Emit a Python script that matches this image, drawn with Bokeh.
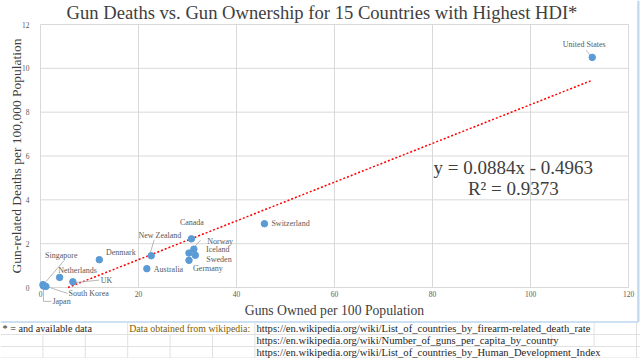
from bokeh.plotting import figure
from bokeh.models import ColumnDataSource, LabelSet, Label, Range1d, FixedTicker
from bokeh.embed import file_html
from bokeh.resources import INLINE

# ---------------- data ----------------
countries = ["United States", "Switzerland", "Canada", "Norway", "Iceland", "Sweden",
             "Germany", "Australia", "New Zealand", "Denmark", "Netherlands", "UK",
             "Singapore", "South Korea", "Japan"]
guns_per_100 = [112.6, 45.7, 30.8, 31.3, 30.3, 31.6, 30.3, 21.7, 22.6, 12.0, 3.9, 6.6, 0.5, 1.1, 0.6]
deaths_per_100k = [10.5, 2.91, 2.22, 1.75, 1.57, 1.47, 1.24, 0.86, 1.45, 1.27, 0.46, 0.26, 0.13, 0.05, 0.07]
trend_slope = 0.0884
trend_intercept = -0.4963
r_squared = 0.9373
x_ticks = [0, 20, 40, 60, 80, 100, 120]
y_ticks = [0, 2, 4, 6, 8, 10, 12]

title_text = "Gun Deaths vs. Gun Ownership for 15 Countries with Highest HDI*"
x_title = "Guns Owned per 100 Population"
y_title = "Gun-related Deaths per 100,000 Population"
note_text = "* = and available data"
source_label = "Data obtained from wikipedia:"
source_urls = ["https://en.wikipedia.org/wiki/List_of_countries_by_firearm-related_death_rate",
               "https://en.wikipedia.org/wiki/Number_of_guns_per_capita_by_country",
               "https://en.wikipedia.org/wiki/List_of_countries_by_Human_Development_Index"]

# ---------------- layout (canvas pixels) ----------------
FONT = "Liberation Serif"
W, H = 640, 358
X0PX, X1PX = 40, 628      # canvas x of x=0 and x=120
Y0PX, Y1PX = 287, 24      # canvas y (from top) of y=0 and y=12
kx = (X1PX - X0PX) / (x_ticks[-1] - x_ticks[0])
ky = (Y0PX - Y1PX) / (y_ticks[-1] - y_ticks[0])


def dx(px):
    return x_ticks[0] + (px - X0PX) / kx


def dy(py):
    return y_ticks[0] + (Y0PX - py) / ky


# label placement: (dx, dy) in px (y down), alignment
label_place = {
    "United States": (-8, -12.7, "center"),
    "Switzerland": (7, 0, "left"),
    "Canada": (0.5, -16, "center"),
    "Norway": (13.4, -8, "left"),
    "Iceland": (17, -3.4, "left"),
    "Sweden": (11, 4.3, "left"),
    "Germany": (19, 8, "center"),
    "Australia": (7, 0.4, "left"),
    "New Zealand": (8.7, -20.3, "center"),
    "Denmark": (6.7, -6.7, "left"),
    "Netherlands": (18, -7.3, "center"),
    "UK": (28, -1, "left"),
    "Singapore": (18.3, -29.3, "center"),
    "South Korea": (22.7, 7.3, "left"),
    "Japan": (9, 15.4, "left"),
}
leaders = {
    "United States": [(-6, -7), (-1, -1)],
    "Norway": [(1, -2.6), (6.7, -9)],
    "New Zealand": [(3, -16), (-1, -2.6)],
    "UK": [(3, 0.7), (26.3, -1.7)],
    "Singapore": [(1.3, -1), (21.3, -24.3)],
    "South Korea": [(-1.7, -0.7), (21.7, 7)],
    "Japan": [(0, 2), (0, 15.4), (8, 15.4)],
}

GRID = "#d9d9d9"
TXT = "#595959"
DARK = "#404040"

p = figure(width=W, height=H, x_range=Range1d(dx(0), dx(W)), y_range=Range1d(dy(H), dy(0)),
           output_backend="svg", toolbar_location=None, min_border=0)
p.grid.visible = False
p.outline_line_color = None

# axes drawn inside the canvas at the data origin
p.xaxis.fixed_location = y_ticks[0]
p.yaxis.fixed_location = x_ticks[0]
p.xaxis.bounds = (x_ticks[0], x_ticks[-1])
p.yaxis.bounds = (y_ticks[0], y_ticks[-1])
p.xaxis.ticker = FixedTicker(ticks=x_ticks)
p.yaxis.ticker = FixedTicker(ticks=y_ticks)
for ax in (p.xaxis[0], p.yaxis[0]):
    ax.major_tick_line_color = None
    ax.minor_tick_line_color = None
    ax.major_label_text_font = FONT
    ax.major_label_text_font_size = "7.5px"
    ax.major_label_text_color = TXT
    ax.axis_label_text_font = FONT
    ax.axis_label_text_font_style = "normal"
    ax.axis_label_text_color = DARK
    ax.level = "underlay"
p.xaxis.axis_label_text_font_size = "13.7px"
p.yaxis.axis_label_text_font_size = "13.5px"
p.xaxis.axis_line_color = GRID
p.yaxis.axis_line_color = None
p.xaxis.axis_label = x_title
p.yaxis.axis_label = y_title
p.xaxis.major_label_standoff = -3
p.yaxis.major_label_standoff = 5
p.xaxis.axis_label_standoff = 3
p.yaxis.axis_label_standoff = -5

# gridlines at the tick values
p.segment(x0=x_ticks, y0=[y_ticks[0]] * len(x_ticks), x1=x_ticks, y1=[y_ticks[-1]] * len(x_ticks),
          line_color=GRID, line_width=1)
p.segment(x0=[x_ticks[0]] * len(y_ticks), y0=y_ticks, x1=[x_ticks[-1]] * len(y_ticks), y1=y_ticks,
          line_color=GRID, line_width=1)

# trend line (clipped at y = 0 like the original)
x_lo = max(min(guns_per_100), -trend_intercept / trend_slope)
x_hi = max(guns_per_100)
p.line([x_lo, x_hi], [trend_slope * x_lo + trend_intercept, trend_slope * x_hi + trend_intercept],
       line_color="#ff0000", line_width=1.5, line_dash="2 2")

# leader lines
lx, ly = [], []
for c, pts in leaders.items():
    i = countries.index(c)
    gx, gy = guns_per_100[i], deaths_per_100k[i]
    lx.append([gx + a / kx for a, _ in pts])
    ly.append([gy - b / ky for _, b in pts])
p.multi_line(xs=lx, ys=ly, line_color="#a6a6a6", line_width=0.8)

src = ColumnDataSource(dict(x=guns_per_100, y=deaths_per_100k, name=countries))
p.scatter("x", "y", source=src, size=6.5, fill_color="#5b9bd5", line_color="#5b9bd5")

for align in ("left", "center"):
    names = [c for c in countries if label_place[c][2] == align]
    idx = [countries.index(c) for c in names]
    s = ColumnDataSource(dict(
        x=[guns_per_100[i] for i in idx], y=[deaths_per_100k[i] for i in idx], name=names,
        xo=[label_place[c][0] for c in names], yo=[-label_place[c][1] for c in names]))
    p.add_layout(LabelSet(x="x", y="y", text="name", source=s, x_offset="xo", y_offset="yo",
                          text_align=align, text_baseline="middle", text_font=FONT,
                          text_font_size="8px", text_color=TXT))

# title and regression text
p.add_layout(Label(x=dx(321.5), y=dy(12), text=title_text, text_align="center",
                   text_baseline="middle", text_font=FONT, text_font_size="18.6px",
                   text_color=DARK))
p.add_layout(Label(x=96.5, y=5.48, text=f"y = {trend_slope}x - {abs(trend_intercept)}",
                   text_align="center", text_baseline="middle", text_font=FONT,
                   text_font_size="19px", text_color=DARK))
p.add_layout(Label(x=96.5, y=4.52, text=f"R\u00b2 = {r_squared}",
                   text_align="center", text_baseline="middle", text_font=FONT,
                   text_font_size="19px", text_color=DARK))

# ---------------- chart border + right strip ----------------
BORDER_X, BORDER_Y = 637.5, 321.5
p.quad(left=[dx(BORDER_X)], right=[dx(W)], bottom=[dy(BORDER_Y)], top=[dy(0)],
       fill_color="#e3ecf7", line_color=None)
p.segment(x0=[dx(BORDER_X), dx(0)], y0=[dy(0), dy(BORDER_Y)], x1=[dx(BORDER_X), dx(BORDER_X)],
          y1=[dy(BORDER_Y), dy(BORDER_Y)], line_color="#9dc3e6", line_width=1)

# ---------------- spreadsheet rows below the chart ----------------
col_w = 636 / 15
row_lines = [334, 346, 357.5]
row_tops = [BORDER_Y, 334, 346]
row_bots = [334, 346, H]
p.segment(x0=[dx(0)] * 3, y0=[dy(r) for r in row_lines], x1=[dx(W)] * 3,
          y1=[dy(r) for r in row_lines], line_color="#e1e1e1", line_width=1)
visible_cols = [[3, 6, 14, 15], [1, 2, 3, 4, 5, 6, 13, 14, 15], [1, 2, 3, 4, 5, 6, 15]]
for r, cols in enumerate(visible_cols):
    p.segment(x0=[dx(k * col_w) for k in cols], y0=[dy(row_tops[r] + 0.5)] * len(cols),
              x1=[dx(k * col_w) for k in cols], y1=[dy(row_bots[r])] * len(cols),
              line_color="#e1e1e1", line_width=1)
texts = [note_text, source_label] + source_urls
tx = [dx(2), dx(3 * col_w + 1.5), dx(6 * col_w + 1.5), dx(6 * col_w + 1.5), dx(6 * col_w + 1.5)]
ty = [dy(328.3), dy(328.3), dy(328.3), dy(340.3), dy(352.3)]
tc = ["#262626", "#7f6000", "#262626", "#262626", "#262626"]
tsize = ["10.2px", "9.9px", "10.6px", "10.6px", "10.6px"]
p.text(x=tx, y=ty, text=texts, text_color=tc, text_font_size=tsize,
       text_baseline="middle", text_align="left", text_font={"value": FONT})

open("out.html", "w").write(file_html(p, INLINE))
